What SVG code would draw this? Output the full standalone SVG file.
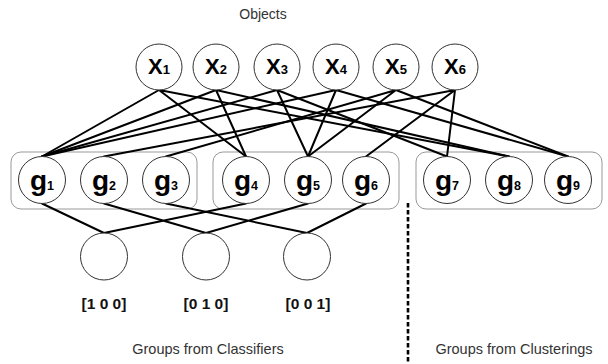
<svg xmlns="http://www.w3.org/2000/svg" width="608" height="364" viewBox="0 0 608 364">
<style>
.nd{fill:#fff;stroke:#333;stroke-width:1}
.bx{fill:none;stroke:#999;stroke-width:1}
.e{stroke:#000;stroke-width:2;fill:none;stroke-linecap:round}
.lx{font-family:"Liberation Sans",Arial,sans-serif;font-weight:bold;font-size:22px;text-anchor:middle;fill:#000}
.lg{font-family:"Liberation Sans",Arial,sans-serif;font-weight:bold;font-size:28px;text-anchor:middle;fill:#000}
.sx{font-size:13px}
.sg{font-size:12.5px}
.vec{font-family:"Liberation Sans",Arial,sans-serif;font-weight:bold;font-size:15.5px;text-anchor:middle;fill:#111}
.cap{font-family:"Liberation Sans",Arial,sans-serif;font-size:14.5px;text-anchor:middle;fill:#333}
</style>
<rect width="608" height="364" fill="#fff"/>
<text class="cap" x="263" y="19" style="font-size:14px">Objects</text>
<g id="boxes">
<rect class="bx" x="11" y="152" width="186" height="57" rx="10"/>
<rect class="bx" x="213" y="152" width="186" height="57" rx="10"/>
<rect class="bx" x="416" y="152" width="186" height="57" rx="10"/>
</g>
<g id="connectors">
<path class="e" d="M159 90L42 156.5M159 90L246 156.5M159 90L509 156.5"/>
<path class="e" d="M216 90L42 156.5M216 90L246 156.5M216 90L509 156.5"/>
<path class="e" d="M277 90L42 156.5M277 90L308 156.5M277 90L447 156.5"/>
<path class="e" d="M336 90L42 156.5M336 90L308 156.5M336 90L568 156.5"/>
<path class="e" d="M396 90L166 156.5M396 90L308 156.5M396 90L568 156.5"/>
<path class="e" d="M455 90L104 156.5M455 90L366 156.5M455 90L447 156.5"/>
<path class="e" d="M42 203.5L104 233M104 203.5L206 233M166 203.5L307 233M246 203.5L104 233M308 203.5L206 233M366 203.5L307 233"/>
<line x1="408" y1="203" x2="408" y2="364" stroke="#000" stroke-width="2.6" stroke-dasharray="4.5 2.5"/>
</g>
<g id="x1"><circle class="nd" cx="159" cy="67" r="23"/><text class="lx" x="159" y="74">X<tspan class="sx">1</tspan></text></g>
<g id="x2"><circle class="nd" cx="216" cy="67" r="23"/><text class="lx" x="216" y="74">X<tspan class="sx">2</tspan></text></g>
<g id="x3"><circle class="nd" cx="277" cy="67" r="23"/><text class="lx" x="277" y="74">X<tspan class="sx">3</tspan></text></g>
<g id="x4"><circle class="nd" cx="336" cy="67" r="23"/><text class="lx" x="336" y="74">X<tspan class="sx">4</tspan></text></g>
<g id="x5"><circle class="nd" cx="396" cy="67" r="23"/><text class="lx" x="396" y="74">X<tspan class="sx">5</tspan></text></g>
<g id="x6"><circle class="nd" cx="455" cy="67" r="23"/><text class="lx" x="455" y="74">X<tspan class="sx">6</tspan></text></g>
<g id="g1"><circle class="nd" cx="42" cy="180" r="23.5"/><text class="lg" x="42" y="190">g<tspan class="sg">1</tspan></text></g>
<g id="g2"><circle class="nd" cx="104" cy="180" r="23.5"/><text class="lg" x="104" y="190">g<tspan class="sg">2</tspan></text></g>
<g id="g3"><circle class="nd" cx="166" cy="180" r="23.5"/><text class="lg" x="166" y="190">g<tspan class="sg">3</tspan></text></g>
<g id="g4"><circle class="nd" cx="246" cy="180" r="23.5"/><text class="lg" x="246" y="190">g<tspan class="sg">4</tspan></text></g>
<g id="g5"><circle class="nd" cx="308" cy="180" r="23.5"/><text class="lg" x="308" y="190">g<tspan class="sg">5</tspan></text></g>
<g id="g6"><circle class="nd" cx="366" cy="180" r="23.5"/><text class="lg" x="366" y="190">g<tspan class="sg">6</tspan></text></g>
<g id="g7"><circle class="nd" cx="447" cy="180" r="23.5"/><text class="lg" x="447" y="190">g<tspan class="sg">7</tspan></text></g>
<g id="g8"><circle class="nd" cx="509" cy="180" r="23.5"/><text class="lg" x="509" y="190">g<tspan class="sg">8</tspan></text></g>
<g id="g9"><circle class="nd" cx="568" cy="180" r="23.5"/><text class="lg" x="568" y="190">g<tspan class="sg">9</tspan></text></g>
<g id="c1"><circle class="nd" cx="104" cy="256.5" r="23.5"/><text class="vec" x="104" y="309">[1 0 0]</text></g>
<g id="c2"><circle class="nd" cx="206" cy="256.5" r="23.5"/><text class="vec" x="206" y="309">[0 1 0]</text></g>
<g id="c3"><circle class="nd" cx="307" cy="256.5" r="23.5"/><text class="vec" x="308" y="309">[0 0 1]</text></g>
<text class="cap" x="208" y="354">Groups from Classifiers</text>
<text class="cap" x="514" y="354">Groups from Clusterings</text>
</svg>
